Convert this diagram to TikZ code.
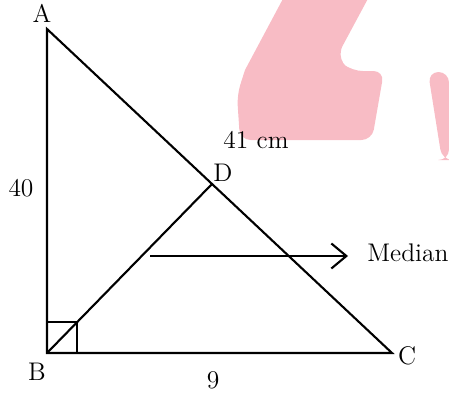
\documentclass[tikz,border=0pt]{standalone}
\usepackage{tikz}
\usetikzlibrary{arrows.meta}
\definecolor{wmpink}{RGB}{248,188,197}
\tikzset{
  side/.style={line width=1.2pt,line join=miter},
  marker/.style={-{Straight Barb[length=3mm,width=5mm,line width=1.2pt]},line width=1.2pt},
  lbl/.style={font=\fontsize{14.5}{16}\selectfont,inner sep=0pt},
  wmark/.style={fill=wmpink,draw=none}
}
\begin{document}
\begin{tikzpicture}[x=0.02cm,y=-0.02cm]
    \useasboundingbox (0,0) rectangle (449,392);
    % watermark
    \begin{scope}
      \clip (0,0) rectangle (449,392);
      \path[wmark] (293,-20)--(378,-20)--(342,47)
        [rounded corners=6pt]--(338,60)--(352,71)--(384,71)--(372,140)--(240,140)
        --(237,95)[sharp corners]--(245,70)--cycle;
      \path[wmark,rounded corners=6pt] (428,72)--(449,72)--(449,160)--(442,160)--cycle;
    \end{scope}
    \coordinate (A) at (47,29);
    \coordinate (B) at (47,353);
    \coordinate (C) at (392,353);
    \coordinate (D) at (212,184);
    \draw[side] (A)--(B)--(C)--cycle;
    \draw[side] (B)--(D);
    \draw[side] (47,322)--(77,322)--(77,353);
    \coordinate (mstart) at (150,256);
    \coordinate (mend) at (348,256);
    \draw[marker] (mstart)--(mend);
    \node[lbl] (la) at (42,13){A};
    \node[lbl] (lb) at (37,372){B};
    \node[lbl] (lc) at (407,356){C};
    \node[lbl] (ld) at (223,173){D};
    \node[lbl] (lac) at (256,140){41 cm};
    \node[lbl] (lab) at (21,188){40};
    \node[lbl] (lbc) at (213,380){9};
    \node[lbl,anchor=west] (lm) at (367,253){Median};
  \end{tikzpicture}
\end{document}
